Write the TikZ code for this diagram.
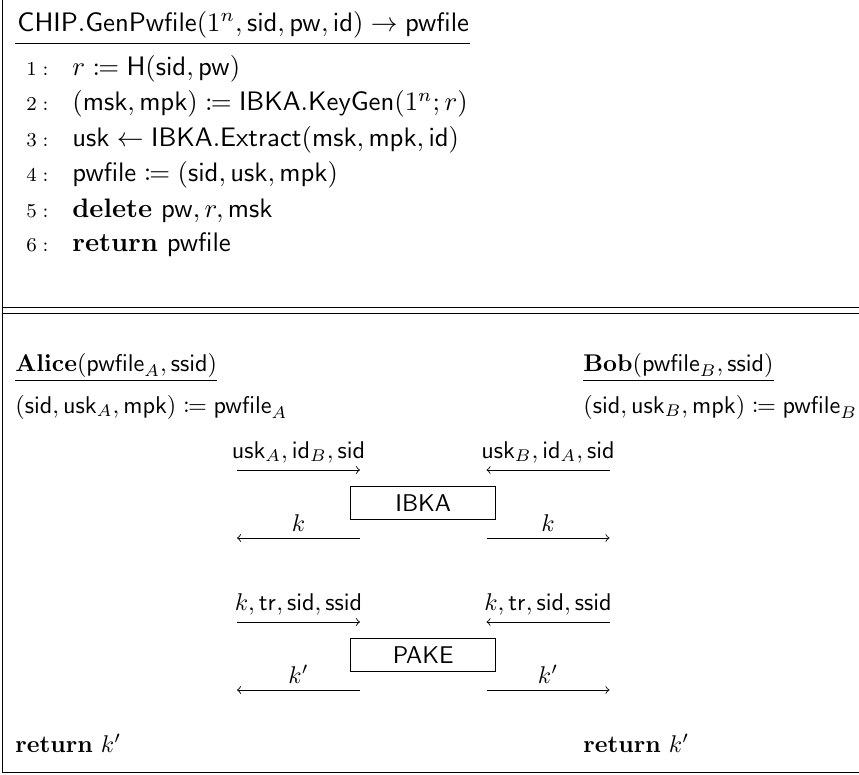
\documentclass[tikz,border=0pt]{standalone}
\usepackage{amsmath,amssymb,mathtools}
\tikzset{
  rule/.style={line width=0.45pt},
  ptxt/.style={anchor=base west, inner sep=0pt},
  lnum/.style={anchor=base west, inner sep=0pt},
  qtxt/.style={anchor=base west, inner sep=0pt},
  lbl/.style={anchor=base, inner sep=0pt},
  msg/.style={-to, line width=0.4pt},
  func/.style={draw, line width=0.45pt, inner sep=0pt, minimum width=65.9pt, minimum height=14.8pt},
}
\newcommand{\nm}[1]{\mathsf{#1}}
\newcommand{\Pt}[1]{\scalebox{1.215}{#1}}
\newcommand{\Qt}[1]{\scalebox{1.1}{#1}}
\newcommand{\Ln}[1]{\scalebox{1.12}{\footnotesize$#1:$}}
\begin{document}
\begin{tikzpicture}[x=0.4545pt,y=-0.4545pt]
\useasboundingbox (0,0) rectangle (859,775);
\draw[rule] (2,-2) -- (2,772) -- (861,772);
\node[ptxt] (title) at (17,31) {\Pt{$\nm{CHIP.GenPwfile}(1^n,\nm{sid},\nm{pw},\nm{id})\to\nm{pwfile}$}};
\coordinate (ul) at (0,43);
\draw[rule] ([xshift=-1pt]title.west |- ul) -- (title.east |- ul);

\node[lnum] (n1) at (26,76) {\Ln{1}};
\node[ptxt] (l1) at (72,76) {\Pt{$r \coloneqq \nm{H}(\nm{sid},\nm{pw})$}};
\node[lnum] (n2) at (26,111) {\Ln{2}};
\node[ptxt] (l2) at (72,111) {\Pt{$(\nm{msk},\nm{mpk}) \coloneqq \nm{IBKA.KeyGen}(1^n;r)$}};
\node[lnum] (n3) at (26,146.5) {\Ln{3}};
\node[ptxt] (l3) at (72,146.5) {\Pt{$\nm{usk} \gets \nm{IBKA.Extract}(\nm{msk},\nm{mpk},\nm{id})$}};
\node[lnum] (n4) at (26,181.5) {\Ln{4}};
\node[ptxt] (l4) at (72,181.5) {\Pt{$\nm{pwfile} \coloneqq (\nm{sid},\nm{usk},\nm{mpk})$}};
\node[lnum] (n5) at (26,217) {\Ln{5}};
\node[ptxt] (l5) at (72,217) {\Pt{$\mathbf{delete}\ \nm{pw},r,\nm{msk}$}};
\node[lnum] (n6) at (26,252) {\Ln{6}};
\node[ptxt] (l6) at (72,252) {\Pt{$\mathbf{return}\ \nm{pwfile}$}};

\draw[rule] (2,307) -- (861,307);
\draw[rule] (2,313) -- (861,313);

\node[qtxt] (alice) at (15,371) {\Qt{$\underline{\mathbf{Alice}(\nm{pwfile}_A,\nm{ssid})}$}};
\node[qtxt] (bob) at (583,371) {\Qt{$\underline{\mathbf{Bob}(\nm{pwfile}_B,\nm{ssid})}$}};
\node[qtxt] (asgA) at (15,413) {\Qt{$(\nm{sid},\nm{usk}_A,\nm{mpk}) \coloneqq \nm{pwfile}_A$}};
\node[qtxt] (asgB) at (583,413) {\Qt{$(\nm{sid},\nm{usk}_B,\nm{mpk}) \coloneqq \nm{pwfile}_B$}};

% IBKA
\node[func] (ibka) at (423.2,503) {\Qt{\sffamily IBKA}};
\coordinate (a1s) at (237,470); \coordinate (a1e) at (360,470);
\coordinate (b1s) at (609.5,470); \coordinate (b1e) at (486.5,470);
\coordinate (a2s) at (360,538); \coordinate (a2e) at (237,538);
\coordinate (b2s) at (486.5,538); \coordinate (b2e) at (609.5,538);
\draw[msg] (a1s) -- (a1e);
\draw[msg] (b1s) -- (b1e);
\draw[msg] (a2s) -- (a2e);
\draw[msg] (b2s) -- (b2e);
\node[lbl] (la1) at (298.5,458) {\Qt{$\nm{usk}_A,\nm{id}_B,\nm{sid}$}};
\node[lbl] (lb1) at (548,458) {\Qt{$\nm{usk}_B,\nm{id}_A,\nm{sid}$}};
\node[lbl] (la2) at (298.5,531) {\Qt{$k$}};
\node[lbl] (lb2) at (548,531) {\Qt{$k$}};

% PAKE
\node[func] (pake) at (423.2,655) {\Qt{\sffamily PAKE}};
\coordinate (c1s) at (237,622); \coordinate (c1e) at (360,622);
\coordinate (d1s) at (609.5,622); \coordinate (d1e) at (486.5,622);
\coordinate (c2s) at (360,690); \coordinate (c2e) at (237,690);
\coordinate (d2s) at (486.5,690); \coordinate (d2e) at (609.5,690);
\draw[msg] (c1s) -- (c1e);
\draw[msg] (d1s) -- (d1e);
\draw[msg] (c2s) -- (c2e);
\draw[msg] (d2s) -- (d2e);
\node[lbl] (lc1) at (298.5,610) {\Qt{$k,\nm{tr},\nm{sid},\nm{ssid}$}};
\node[lbl] (ld1) at (548,610) {\Qt{$k,\nm{tr},\nm{sid},\nm{ssid}$}};
\node[lbl] (lc2) at (298.5,683) {\Qt{$k'$}};
\node[lbl] (ld2) at (548,683) {\Qt{$k'$}};

\node[qtxt] (retA) at (15,752) {\Qt{$\mathbf{return}\ k'$}};
\node[qtxt] (retB) at (583,752) {\Qt{$\mathbf{return}\ k'$}};
\end{tikzpicture}
\end{document}
